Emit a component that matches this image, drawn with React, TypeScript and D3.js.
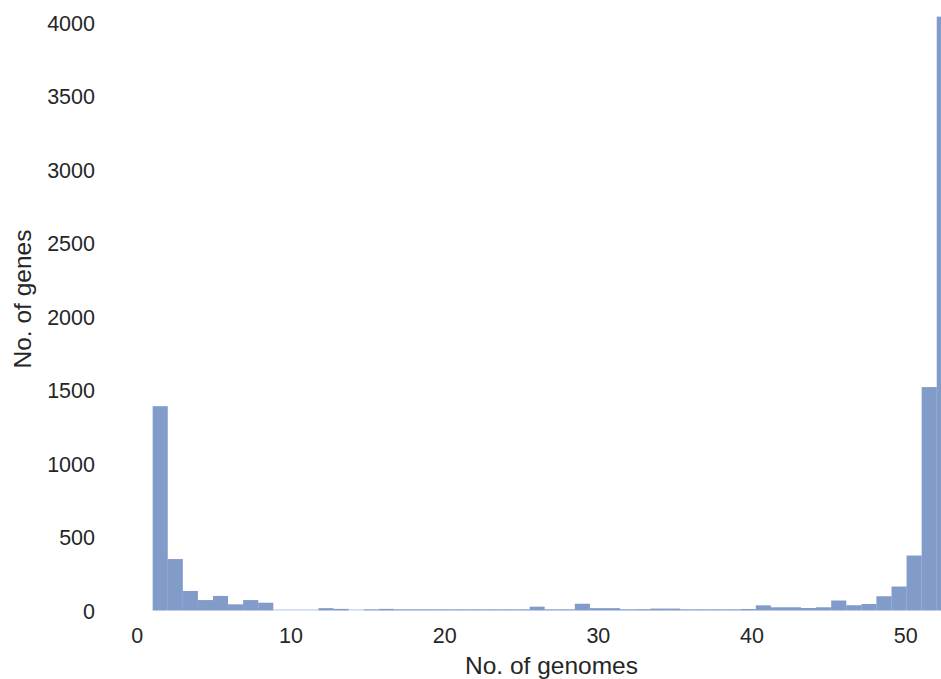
import React from "react";
import * as d3 from "d3";

// Histogram: number of genes present in N genomes (53 bins from 1 to 53)
const binStart = 1;
const binEnd = 53;
const counts: number[] = [
  1390, 350, 133, 71, 99, 42, 71, 53, 0, 0,
  0, 16, 11, 0, 3, 11, 5, 5, 5, 1,
  5, 1, 5, 5, 5, 26, 1, 1, 46, 16,
  16, 2, 9, 13, 13, 2, 2, 5, 1, 10,
  35, 22, 22, 17, 22, 68, 36, 44, 97, 163,
  374, 1520, 4040,
];
const xTicks = [0, 10, 20, 30, 40, 50];
const yTicks = [0, 500, 1000, 1500, 2000, 2500, 3000, 3500, 4000];
const xLabel = "No. of genomes";
const yLabel = "No. of genes";

const W = 941;
const H = 679;
const FONT = "'Liberation Sans', Arial, Helvetica, sans-serif";
const TEXT = "#262626";
const BAR = "#4C72B0";

export default function App() {
  const x = d3.scaleLinear().domain([0, 50]).range([137.3, 905.7]);
  const y = d3.scaleLinear().domain([0, 4000]).range([610.5, 22.5]);
  const n = counts.length;
  const bw = (binEnd - binStart) / n;
  const bars = counts.map((c, i) => {
    const x0 = binStart + i * bw;
    const x1 = x0 + bw;
    return { x0, x1, c };
  });
  const base = y(0);
  return (
    <svg
      width={W}
      height={H}
      style={{ position: "fixed", left: 0, top: 0, background: "#fff" }}
      fontFamily={FONT}
    >
      <rect x={0} y={0} width={W} height={H} fill="#fff" />
      {bars.map((b, i) => {
        const top = y(b.c);
        const h = Math.max(base - top, 1.2);
        return (
          <rect
            key={i}
            x={x(b.x0)}
            y={base - h}
            width={x(b.x1) - x(b.x0)}
            height={h}
            fill={BAR}
            fillOpacity={b.c === 0 ? 0.35 : 0.7}
          />
        );
      })}
      {yTicks.map((t) => (
        <text
          key={"y" + t}
          x={95}
          y={y(t) + 1}
          textAnchor="end"
          dominantBaseline="central"
          fontSize={21.5}
          fill={TEXT}
        >
          {t}
        </text>
      ))}
      {xTicks.map((t) => (
        <text
          key={"x" + t}
          x={x(t)}
          y={636}
          textAnchor="middle"
          dominantBaseline="central"
          fontSize={21.5}
          fill={TEXT}
        >
          {t}
        </text>
      ))}
      <text
        x={551.5}
        y={665}
        textAnchor="middle"
        dominantBaseline="central"
        fontSize={24.5}
        fill={TEXT}
      >
        {xLabel}
      </text>
      <text
        transform={`translate(22, 299) rotate(-90)`}
        textAnchor="middle"
        dominantBaseline="central"
        fontSize={24.5}
        fill={TEXT}
      >
        {yLabel}
      </text>
    </svg>
  );
}
